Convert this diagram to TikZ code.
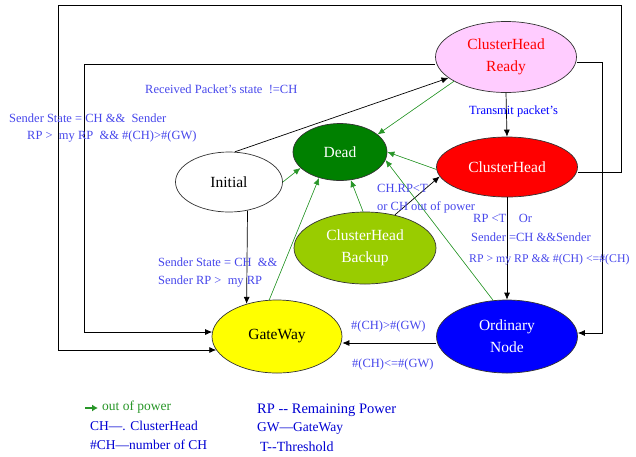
\documentclass[tikz,border=0pt]{standalone}
\usepackage{fontspec}
\setmainfont{Liberation Serif}
\usetikzlibrary{shapes.geometric,arrows.meta}
\definecolor{chrpink}{RGB}{255,204,255}
\definecolor{deadgreen}{RGB}{0,128,0}
\definecolor{chred}{RGB}{255,0,0}
\definecolor{bkgreen}{RGB}{153,204,0}
\definecolor{gwyellow}{RGB}{255,255,0}
\definecolor{onblue}{RGB}{0,0,255}
\definecolor{lblue}{RGB}{70,70,235}
\definecolor{legblue}{RGB}{0,0,210}
\definecolor{ggreen}{RGB}{40,150,40}
\begin{document}
\begin{tikzpicture}[x=1pt,y=-1pt,
  st/.style={ellipse,draw=black!80,line width=0.7pt,inner sep=0pt,align=center,
    font=\fontsize{15.5}{22}\selectfont},
  arr/.style={-{Latex[length=7pt,width=6pt]},line width=0.7pt,draw=black},
  garr/.style={-{Latex[length=7pt,width=6pt]},line width=0.6pt,draw=ggreen,fill=ggreen},
  lbl/.style={font=\fontsize{12.5}{14}\selectfont,text=lblue,anchor=west,inner sep=0pt},
  leg/.style={font=\fontsize{13.5}{16}\selectfont,text=legblue,anchor=west,inner sep=0pt}]
\useasboundingbox (0,0) rectangle (636,456);

% states
\node[st,fill=chrpink,text=red,minimum width=141pt,minimum height=71pt] (chr) at (506,57) {ClusterHead\\Ready};
\node[st,fill=deadgreen,text=white,minimum width=94pt,minimum height=57pt] (dead) at (340,152) {Dead};
\node[st,fill=white,text=black,minimum width=107pt,minimum height=60pt] (init) at (229,182) {Initial};
\node[st,fill=chred,text=white,minimum width=141pt,minimum height=60pt] (ch) at (507,167) {ClusterHead};
\node[st,fill=bkgreen,text=white,minimum width=142pt,minimum height=72pt] (backup) at (365,248) {ClusterHead\\Backup};
\node[st,fill=gwyellow,text=black,minimum width=130pt,minimum height=73pt] (gw) at (277,336.5) {GateWay};
\node[st,fill=onblue,text=white,minimum width=141pt,minimum height=73pt] (on) at (507,336.5) {Ordinary\\Node};

% corner coordinates
\coordinate (o1) at (621,5);
\coordinate (o2) at (58,350);
\coordinate (i1) at (84,332);
\coordinate (r1) at (602,333);

% loops
\draw[arr] ([yshift=-5pt]ch.east) -| (o1) -| (o2) -- ([xshift=4.6pt,yshift=-13.5pt]gw.west);
\draw[arr] ([yshift=-7pt]chr.west) -| (i1) -- ([xshift=0.5pt,yshift=4.5pt]gw.west);
\draw[arr] ([yshift=-5pt]chr.east) -| (r1) -- ([yshift=3.5pt]on.east);

% black transitions
\draw[arr] (init.79) -- (chr.200);
\draw[arr] (chr.south) -- (ch.north);
\draw[arr] (backup.48) -- (ch.188);
\draw[arr] (init.-57) -- (gw.133);
\draw[arr] (ch.south) -- (on.north);
\draw[arr] ([yshift=-6.5pt]on.west) -- ([yshift=-6.5pt]gw.east);

% out of power (green)
\draw[garr] (chr.205) -- (dead.25);
\draw[garr] (ch.182) -- (dead.0);
\draw[garr] (on.111) -- (dead.-10);
\draw[garr] (init.0) -- (dead.202);
\draw[garr] (gw.102) -- (dead.231);
\draw[garr] (backup.93) -- (dead.291);

% labels
\node[lbl] (l1) at (145,89) {Received Packet's state\ \ !=CH};
\node[lbl] (l2) at (9,118) {Sender State = CH \&\&\ \ Sender};
\node[lbl] (l3) at (27,137) {RP >\ \ my RP\ \ \&\& \#(CH)>\#(GW)};
\node[lbl,text=onblue] (l4) at (469,111) {Transmit packet's};
\node[lbl] (l5) at (377,188) {CH.RP<T};
\node[lbl] (l6) at (377,207) {or CH out of power};
\node[lbl] (l7) at (473,218) {RP <T\ \ \ \ Or};
\node[lbl] (l8) at (471,237) {Sender =CH \&\&Sender};
\node[lbl,font=\fontsize{11.8}{14}\selectfont] (l9) at (469,260) {RP > my RP \&\& \#(CH) <=\#(CH)};
\node[lbl] (l10) at (158,262) {Sender State = CH\ \ \&\&};
\node[lbl] (l11) at (158,282) {Sender RP >\ \ my RP};
\node[lbl] (l12) at (351,326) {\#(CH)>\#(GW)};
\node[lbl] (l13) at (352,364) {\#(CH)<=\#(GW)};

% legend
\coordinate (ga) at (85,408);
\coordinate (gb) at (98,408);
\draw[-{Latex[length=6pt,width=7pt]},line width=2.2pt,draw=ggreen,fill=ggreen] (ga) -- (gb);
\node[leg,text=ggreen] (g1) at (102,407) {out of power};
\node[leg] (g2) at (90,426) {CH—. ClusterHead};
\node[leg] (g3) at (90,445) {\#CH—number of CH};
\node[leg,font=\fontsize{14.5}{16}\selectfont] (g4) at (257,410) {RP {-}{-} Remaining Power};
\node[leg] (g5) at (257,428) {GW—GateWay};
\node[leg,font=\fontsize{14}{16}\selectfont] (g6) at (260,447) {T{-}{-}Threshold};
\end{tikzpicture}
\end{document}
